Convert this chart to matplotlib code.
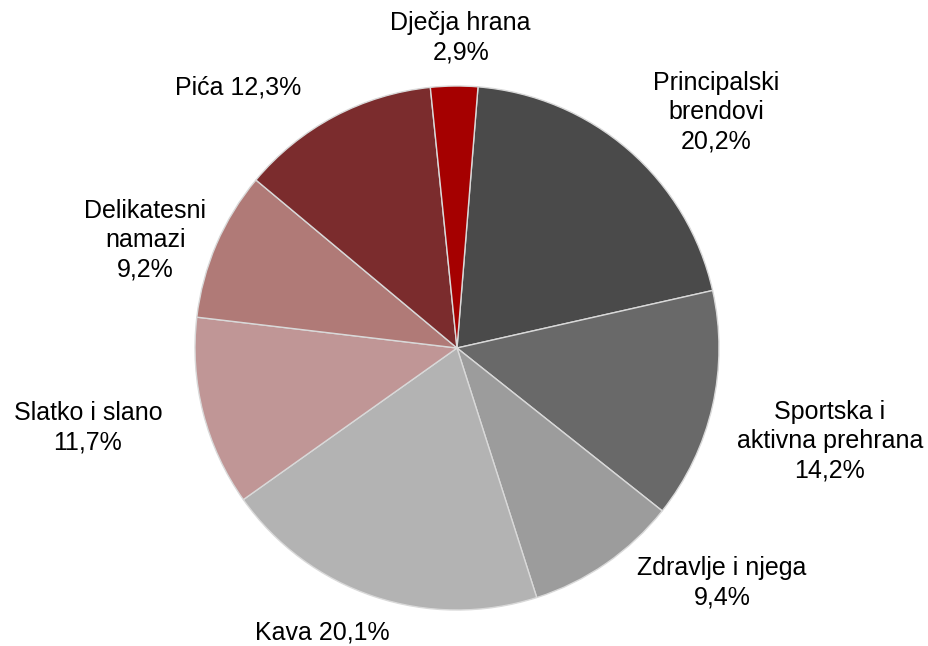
import matplotlib.pyplot as plt
import numpy as np

plt.rcParams["font.family"] = ["Liberation Sans", "DejaVu Sans"]

# Shares in percent, clockwise from the top
categories = ["Principalski\nbrendovi", "Sportska i\naktivna prehrana", "Zdravlje i njega",
              "Kava", "Slatko i slano", "Delikatesni\nnamazi", "Pića", "Dječja hrana"]
shares = [20.2, 14.2, 9.4, 20.1, 11.7, 9.2, 12.3, 2.9]
colors = ["#4a4a4a", "#696969", "#9c9c9c", "#b3b3b3",
          "#c09696", "#b07a77", "#7b2c2d", "#a50000"]
# label layout: separator between name and value, radial distance, angle shift (deg, ccw)
label_sep = ["\n", "\n", "\n", " ", "\n", "\n", " ", "\n"]
label_r = [1.337, 1.467, 1.352, 1.20, 1.441, 1.26, 1.297, 1.183]
label_shift = [-6.7, -1.1, 13.8, -6.9, -2.1, 4.2, 12.1, -1.3]

fig = plt.figure(figsize=(9.29, 6.46), dpi=100)
cx, cy, rad = 457 / 929, 1 - 348 / 646, 262
ax = fig.add_axes([cx - rad / 929, cy - rad / 646, 2 * rad / 929, 2 * rad / 646])

wedges, _ = ax.pie(shares, colors=colors, startangle=85.4, counterclock=False,
                   radius=1.0, wedgeprops=dict(edgecolor="#d9d9d9", linewidth=1.0))

for w, name, val, sep, r, sh in zip(wedges, categories, shares, label_sep, label_r, label_shift):
    mid = np.deg2rad((w.theta1 + w.theta2) / 2 + sh)
    txt = f"{name}{sep}{val:.1f}%".replace(".", ",")
    ax.text(r * np.cos(mid), r * np.sin(mid), txt, ha="center", va="center",
            fontsize=18, color="black", linespacing=1.28)

ax.set_xlim(-1, 1)
ax.set_ylim(-1, 1)
ax.set_aspect("equal")
ax.axis("off")

fig.savefig("out.png", dpi=100)
